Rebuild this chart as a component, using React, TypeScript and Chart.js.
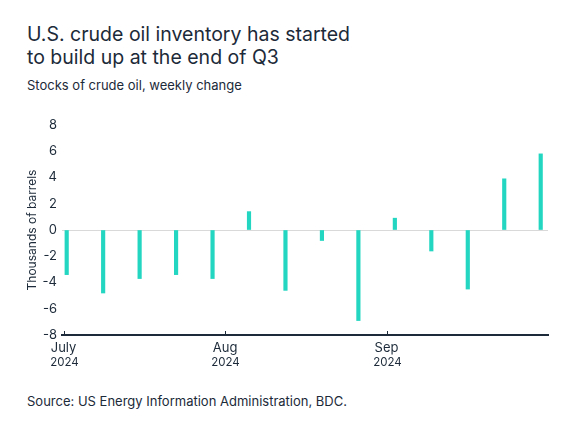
import { useEffect, useRef } from "react";
import { Chart, registerables } from "chart.js";

Chart.register(...registerables);

// weekly change in U.S. crude oil stocks
const weekDates = [
  "2024-07-01", "2024-07-08", "2024-07-15", "2024-07-22", "2024-07-29",
  "2024-08-05", "2024-08-12", "2024-08-19", "2024-08-26",
  "2024-09-02", "2024-09-09", "2024-09-16", "2024-09-23", "2024-09-30",
];
const weeklyChange = [-3.4, -4.8, -3.7, -3.4, -3.7, 1.4, -4.6, -0.8, -6.9, 0.9, -1.6, -4.5, 3.9, 5.8];

const monthDates = ["2024-07-01", "2024-08-01", "2024-09-01"];
const monthLabels = ["July", "Aug", "Sep"];
const yearLabels = ["2024", "2024", "2024"];

const NAVY = "#1c2a39";
const TEAL = "#22d6c1";
const FONT = "Inter, 'Noto Sans', sans-serif";

const dayNum = (iso: string) => (Date.parse(iso) - Date.parse("2024-07-01")) / 864e5;

const monthMarks = {
  id: "monthMarks",
  afterDraw(chart: any) {
    const { ctx, chartArea } = chart;
    const x = chart.scales.x;
    ctx.save();
    ctx.strokeStyle = NAVY;
    ctx.lineWidth = 1;
    ctx.fillStyle = NAVY;
    ctx.font = `11.5px ${FONT}`;
    ctx.textAlign = "center";
    ctx.textBaseline = "middle";
    monthDates.forEach((d, i) => {
      const px = Math.round(x.getPixelForValue(dayNum(d))) + 0.5;
      ctx.beginPath();
      ctx.moveTo(px, chartArea.bottom);
      ctx.lineTo(px, chartArea.bottom - 4);
      ctx.stroke();
      ctx.fillText(yearLabels[i], px, chartArea.bottom + 28);
    });
    ctx.restore();
  },
};

function InventoryChart() {
  const canvasRef = useRef<HTMLCanvasElement>(null);

  useEffect(() => {
    const ctx = canvasRef.current?.getContext("2d");
    if (!ctx) return;
    const chart = new Chart(ctx, {
      type: "bar",
      data: {
        datasets: [
          {
            data: weekDates.map((d, i) => ({ x: dayNum(d) + 0.6, y: weeklyChange[i] })),
            backgroundColor: TEAL,
            borderWidth: 0,
            barThickness: 3.5,
          },
        ],
      },
      options: {
        responsive: false,
        animation: false,
        layout: { padding: { top: 15, right: 27, left: 0, bottom: 0 } },
        plugins: { legend: { display: false }, tooltip: { enabled: false } },
        scales: {
          x: {
            type: "linear",
            offset: false,
            min: -0.3,
            max: 93,
            afterBuildTicks: (s: any) => {
              s.ticks = monthDates.map((d) => ({ value: dayNum(d) }));
            },
            afterFit: (s: any) => {
              s.height = 40;
            },
            grid: { display: false, drawTicks: false },
            border: { display: true, color: NAVY, width: 2 },
            ticks: {
              color: NAVY,
              font: { family: FONT, size: 13 },
              padding: 5,
              maxRotation: 0,
              autoSkip: false,
              callback: (v: any) => monthLabels[monthDates.findIndex((d) => dayNum(d) === v)],
            },
          },
          y: {
            min: -8,
            max: 8,
            afterFit: (s: any) => {
              s.width = 62;
            },
            grid: {
              drawTicks: false,
              color: (c: any) => (c.tick && c.tick.value === 0 ? "#d9d9d9" : "transparent"),
            },
            border: { display: false },
            ticks: {
              stepSize: 2,
              color: NAVY,
              font: { family: FONT, size: 13 },
              padding: 5,
            },
            title: {
              display: true,
              text: "Thousands of barrels",
              color: NAVY,
              font: { family: FONT, size: 12 },
              padding: { top: 25, bottom: 0 },
            },
          },
        },
      },
      plugins: [monthMarks],
    });
    return () => chart.destroy();
  }, []);

  return (
    <canvas
      ref={canvasRef}
      width={575}
      height={265}
      style={{ position: "absolute", left: 0, top: 110, width: 575, height: 265 }}
    />
  );
}

export default function App() {
  return (
    <div
      style={{
        position: "fixed",
        left: 0,
        top: 0,
        width: 575,
        height: 431,
        background: "#fff",
        fontFamily: FONT,
        color: NAVY,
      }}
    >
      <div style={{ position: "absolute", left: 27, top: 23, fontSize: 19.5, lineHeight: "23px" }}>
        U.S. crude oil inventory has started
        <br />
        to build up at the end of Q3
      </div>
      <div style={{ position: "absolute", left: 27, top: 77, fontSize: 13, lineHeight: "16px" }}>
        Stocks of crude oil, weekly change
      </div>
      <InventoryChart />
      <div style={{ position: "absolute", left: 27, top: 393, fontSize: 13, lineHeight: "16px" }}>
        Source: US Energy Information Administration, BDC.
      </div>
    </div>
  );
}
